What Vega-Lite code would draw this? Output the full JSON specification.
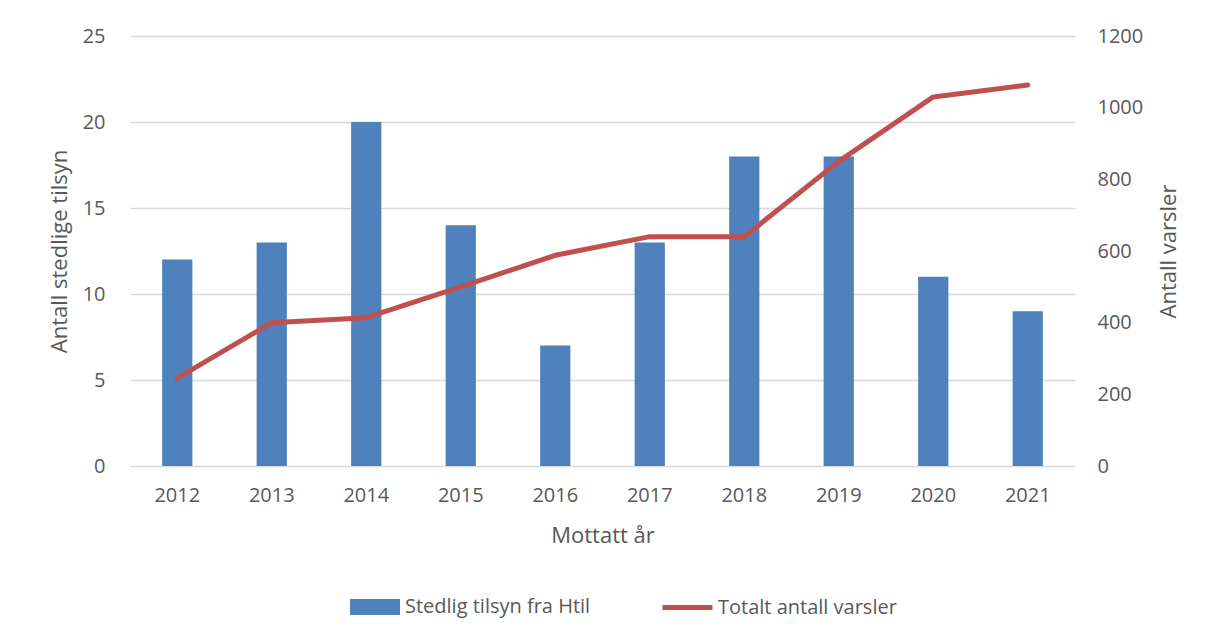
{
  "$schema": "https://vega.github.io/schema/vega-lite/v6.json",
  "autosize": "none",
  "width": 945,
  "height": 430,
  "padding": {"left": 130, "top": 36, "right": 140, "bottom": 175},
  "background": "white",
  "config": {
    "font": "Open Sans",
    "view": {"stroke": null},
    "axis": {"labelColor": "#595959", "titleColor": "#595959", "labelFontSize": 20, "titleFontSize": 22, "titleFontWeight": "normal", "domain": false, "ticks": false, "labelFont": "Open Sans", "titleFont": "Open Sans"},
    "legend": {"labelColor": "#595959", "labelFontSize": 20, "labelFont": "Open Sans", "labelLimit": 400}
  },
  "data": {
    "values": [
      {"year": "2012", "tilsyn": 12, "varsler": 245},
      {"year": "2013", "tilsyn": 13, "varsler": 400},
      {"year": "2014", "tilsyn": 20, "varsler": 414},
      {"year": "2015", "tilsyn": 14, "varsler": 500},
      {"year": "2016", "tilsyn": 7, "varsler": 588},
      {"year": "2017", "tilsyn": 13, "varsler": 640},
      {"year": "2018", "tilsyn": 18, "varsler": 640},
      {"year": "2019", "tilsyn": 18, "varsler": 850},
      {"year": "2020", "tilsyn": 11, "varsler": 1030},
      {"year": "2021", "tilsyn": 9, "varsler": 1063}
    ]
  },
  "encoding": {
    "x": {
      "field": "year", "type": "ordinal",
      "scale": {"paddingInner": 0.68, "paddingOuter": 0.34},
      "axis": {"title": "Mottatt år", "labelAngle": 0, "labelPadding": 19, "titlePadding": 20, "grid": false}
    }
  },
  "layer": [
    {
      "mark": {"type": "bar", "color": "#4f81bd"},
      "encoding": {
        "y": {
          "field": "tilsyn", "type": "quantitative",
          "scale": {"domain": [0, 25]},
          "axis": {"title": "Antall stedlige tilsyn", "values": [0, 5, 10, 15, 20, 25], "grid": true, "gridColor": "#d9d9d9", "gridWidth": 1.5, "labelPadding": 25, "titlePadding": 11}
        },
        "fill": {
          "datum": "Stedlig tilsyn fra Htil",
          "scale": {"range": ["#4f81bd"]},
          "legend": {"title": null, "orient": "none", "legendX": 220, "legendY": 546, "symbolType": "M-1,-0.32H1V0.32H-1Z", "symbolSize": 2500, "symbolStrokeWidth": 0, "labelOffset": 5}
        }
      }
    },
    {
      "mark": {"type": "line", "strokeWidth": 5, "strokeCap": "round", "strokeJoin": "round"},
      "encoding": {
        "y": {
          "field": "varsler", "type": "quantitative",
          "scale": {"domain": [0, 1200]},
          "axis": {"orient": "right", "title": "Antall varsler", "format": "d", "values": [0, 200, 400, 600, 800, 1000, 1200], "grid": false, "labelPadding": 22, "titleAngle": 270, "titleBaseline": "top", "titlePadding": 16}
        },
        "stroke": {
          "datum": "Totalt antall varsler",
          "scale": {"range": ["#c0504d"]},
          "legend": {"title": null, "orient": "none", "legendX": 530, "legendY": 544, "symbolType": "stroke", "symbolSize": 2500, "symbolStrokeWidth": 5, "labelOffset": 3}
        }
      }
    }
  ],
  "resolve": {"scale": {"y": "independent"}}
}
